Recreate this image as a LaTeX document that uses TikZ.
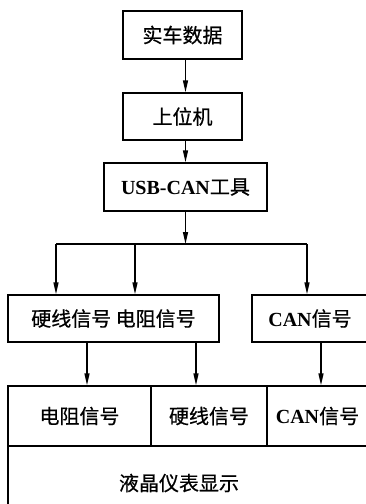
\documentclass[tikz,border=0pt]{standalone}
\usepackage{fontspec}
\setmainfont{Liberation Serif}
\newfontfamily\cjk[FakeBold=0.6]{Noto Sans CJK SC}
\usetikzlibrary{arrows.meta}
\newcommand\lat[1]{{\rmfamily\bfseries #1}}
\begin{document}
\begin{tikzpicture}[x=1pt,y=-1pt,
  font=\cjk\fontsize{20}{23}\selectfont,
  box/.style={draw, line width=1.4pt, inner sep=0pt},
  arr/.style={line width=1.4pt, -{Triangle[length=12pt,width=5pt]}},
  ln/.style={line width=1.4pt}]
\clip (0,0) rectangle (366,504);
% top chain
\node[box, minimum width=119pt, minimum height=48pt] (b1) at (182.5,35) {实车数据};
\node[box, minimum width=119pt, minimum height=47pt] (b2) at (182.5,116.5) {上位机};
\node[box, minimum width=163pt, minimum height=48pt] (b3) at (185.5,187) {\lat{USB-CAN}工具};
% middle boxes
\node[box, minimum width=211pt, minimum height=47pt] (b4) at (113.5,318.5) {硬线信号 电阻信号};
\node[box, minimum width=116pt, minimum height=47pt] (b5) at (310,318.5) {\lat{CAN}信号};
% bottom cells
\node[box, minimum width=143pt, minimum height=60pt] (c1) at (79.5,416) {电阻信号};
\node[box, minimum width=116pt, minimum height=60pt] (c2) at (209,416) {硬线信号};
\node[box, minimum width=101pt, minimum height=60pt] (c3) at (317.5,416) {\lat{CAN}信号};
\node[box, minimum width=360pt, minimum height=74pt] (disp) at (188,483) {};
\node (dtext) at (179,483) {液晶仪表显示};
% connectors
\draw[arr] ([xshift=3pt]b1.south) coordinate (p1) -- (p1 |- b2.north);
\draw[arr] ([xshift=3pt]b2.south) coordinate (p2) -- (p2 |- b3.north);
\coordinate (br) at (185.5,244);
\coordinate (bl) at (56,244);
\coordinate (bm) at (135,244);
\coordinate (bx) at (307,244);
\draw[arr] (b3.south) -- (br);
\draw[ln] (bl) -- (bx);
\draw[arr] (bl) -- (bl |- b4.north);
\draw[arr] (bm) -- (bm |- b4.north);
\draw[arr] (bx) -- (bx |- b5.north);
\draw[arr] ([xshift=-26.5pt]b4.south) coordinate (q1) -- (q1 |- c1.north);
\draw[arr] ([xshift=82.5pt]b4.south) coordinate (q2) -- (q2 |- c2.north);
\draw[arr] ([xshift=11pt]b5.south) coordinate (q3) -- (q3 |- c3.north);
\end{tikzpicture}
\end{document}
